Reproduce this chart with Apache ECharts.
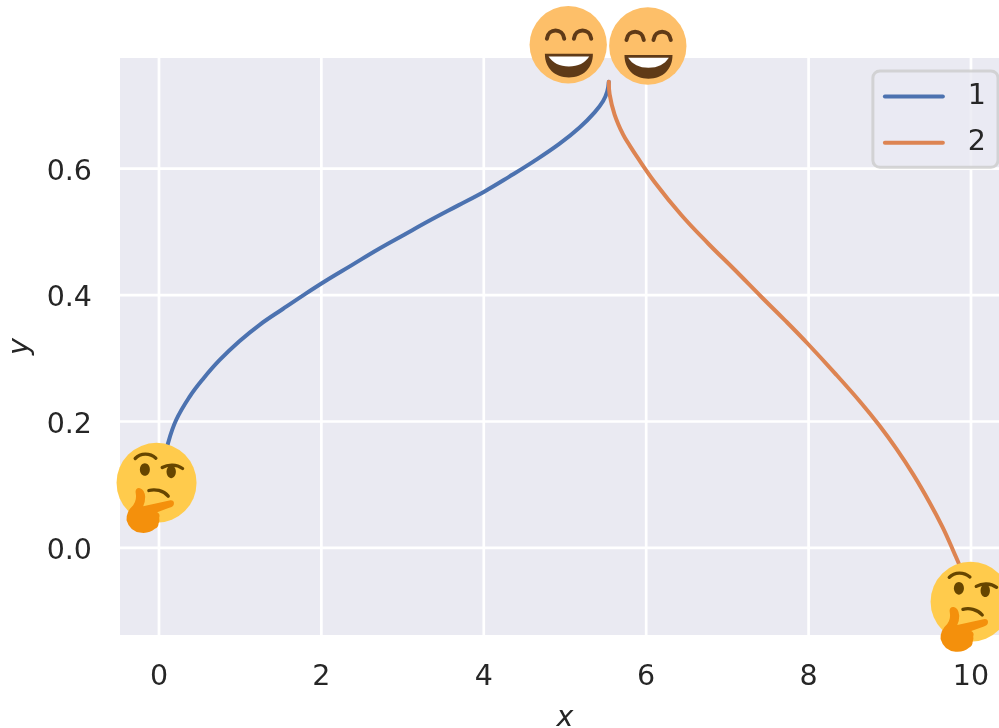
<!DOCTYPE html>
<html>
<head>
<meta charset="utf-8">
<style>html,body{margin:0;padding:0;background:#fff;overflow:hidden}#c{width:999px;height:728px}</style>
<script src="https://cdn.jsdelivr.net/npm/echarts@6/dist/echarts.min.js"></script>
</head>
<body>
<div id="c"></div>
<script>
const seriesNames = ['1', '2'];
const curve1 = [[0,0.10],[0.04,0.125],[0.11,0.165],[0.21,0.202],[0.376,0.239],[0.54,0.267],[0.745,0.297],[0.99,0.327],[1.24,0.353],[1.525,0.378],[1.78,0.4],[2.04,0.4215],[2.37,0.447],[2.70,0.4725],[3.02,0.4955],[3.35,0.519],[3.68,0.5415],[4.01,0.564],[4.31,0.587],[4.61,0.611],[4.93,0.639],[5.18,0.665],[5.365,0.689],[5.47,0.707],[5.52,0.722],[5.54,0.7375]];
const curve2 = [[5.54,0.7375],[5.55,0.7175],[5.61,0.686],[5.715,0.654],[5.8,0.636],[5.88,0.62],[6.105,0.5785],[6.43,0.527],[6.76,0.482],[7.09,0.44],[7.42,0.397],[7.71,0.36],[7.99,0.323],[8.32,0.277],[8.65,0.229],[8.87,0.194],[9.08,0.157],[9.29,0.116],[9.49,0.072],[9.65,0.033],[9.78,-0.004],[9.9,-0.041],[10,-0.083]];
const thinkingFaces = [[-0.03,0.103],[9.995,-0.085]];
const grinningFaces = [[5.04,0.796],[6.02,0.794]];
const xTicks = [0,2,4,6,8,10];
const yTicks = [0,0.2,0.4,0.6];

const font = 'DejaVu Sans';
const ink = '#262626';
const fontPx = 28.5;

function P(d, style){
  const r = echarts.graphic.makePath(d, {}).getBoundingRect();
  return {type:'path', shape:{pathData:d, layout:'cover', x:r.x, y:r.y, width:r.width, height:r.height}, style:style};
}
const brown = '#664500';
function stroke(c, w){ return {fill:'none', stroke:c, lineWidth:w, lineCap:'round'}; }

function thinkingShapes(){
  return [
    {type:'circle', shape:{cx:170,cy:158,r:120}, style:{fill:'#FFCB4C'}},
    P('M106 85C122 68 150 68 168 84', stroke(brown,10)),
    {type:'ellipse', shape:{cx:135,cy:118,rx:15,ry:19}, style:{fill:brown}},
    P('M187 112C205 102 230 102 248 115', stroke(brown,10)),
    {type:'ellipse', shape:{cx:214,cy:125,rx:14,ry:19}, style:{fill:brown}},
    P('M147 181C165 176 190 180 205 198', stroke(brown,10)),
    P('M107 185Q108 172 120 174Q134 178 136 200Q136 215 130 228L212 210Q224 210 222 222Q220 230 208 233L172 246Q182 252 178 262Q180 272 176 280Q176 292 165 296Q150 310 125 308Q90 305 80 270Q78 245 100 225Q112 210 107 185Z', {fill:'#F4900C'})
  ];
}
function grinShapes(){
  const eb = '#5F3A17';
  return [
    {type:'circle', shape:{cx:145,cy:135,r:116}, style:{fill:'#FDBF69'}},
    P('M81 117C85 84 129 84 133 117', stroke(eb,12)),
    P('M162 117C166 84 210 84 214 117', stroke(eb,12)),
    P('M75 162L219 162C219 205 190 233 147 233C104 233 75 205 75 162Z', {fill:eb}),
    P('M86 170L208 170C195 190 175 200 147 200C119 200 99 190 86 170Z', {fill:'#FFFFFF'})
  ];
}
function emojiRender(kind){
  return function(params, api){
    const c = api.coord([api.value(0), api.value(1)]);
    const o = kind === 'think' ? [170,158] : [145,135];
    return {type:'group', x:c[0], y:c[1], scaleX:1/3, scaleY:1/3,
      children:[{type:'group', x:-o[0], y:-o[1], children: kind==='think' ? thinkingShapes() : grinShapes()}]};
  };
}
const gridStyle = {stroke:'#fff', lineWidth:2.7, fill:'none'};
function vLine(params, api){
  const a = api.coord([api.value(0), 0]);
  const r = params.coordSys;
  return {type:'line', shape:{x1:a[0], y1:r.y, x2:a[0], y2:r.y+r.height}, style:gridStyle};
}
function hLine(params, api){
  const a = api.coord([0, api.value(1)]);
  const r = params.coordSys;
  return {type:'line', shape:{x1:r.x, y1:a[1], x2:r.x+r.width, y2:a[1]}, style:gridStyle};
}

const chart = echarts.init(document.getElementById('c'), null, {renderer:'canvas'});
chart.setOption({
  animation:false,
  backgroundColor:'#fff',
  grid:{left:120, top:58, width:879, height:577, backgroundColor:'#EAEAF2', show:true, borderWidth:0, outerBoundsMode:'none'},
  legend:{
    data:seriesNames, right:1, top:71, orient:'vertical', itemWidth:62, itemHeight:26, itemGap:17.3,
    icon:'path://M2 0H60A2 2 0 0 1 60 4H2A2 2 0 0 1 2 0Z', padding:[11,12,10,10],
    backgroundColor:'rgba(234,234,242,0.8)', borderColor:'rgba(204,204,204,0.8)', borderWidth:3, borderRadius:7,
    textStyle:{fontFamily:font, fontSize:fontPx, color:ink, padding:[0,0,0,18]}
  },
  xAxis:{
    type:'value', min:-0.48, max:10.345,
    name:'x', nameLocation:'middle', nameGap:69,
    nameTextStyle:{fontFamily:font, fontStyle:'italic', fontSize:fontPx, color:ink, padding:[0,0,0,11]},
    axisLine:{show:false}, axisTick:{show:false},
    axisLabel:{customValues:xTicks, fontFamily:font, fontSize:fontPx, color:ink, margin:28, formatter:v=>String(v)},
    splitLine:{show:false}
  },
  yAxis:{
    type:'value', min:-0.1377, max:0.775,
    name:'y', nameLocation:'middle', nameGap:85,
    nameTextStyle:{fontFamily:font, fontStyle:'italic', fontSize:fontPx, color:ink},
    axisLine:{show:false}, axisTick:{show:false},
    axisLabel:{customValues:yTicks, fontFamily:font, fontSize:fontPx, color:ink, margin:28, verticalAlign:'top', lineHeight:8, formatter:v=>v.toFixed(1)},
    splitLine:{show:false}
  },
  series:[
    {name:'gridX', type:'custom', data:xTicks.map(v=>[v,0]), renderItem:vLine, z:1, silent:true, clip:true, encode:{x:0,y:1}},
    {name:'gridY', type:'custom', data:yTicks.map(v=>[0,v]), renderItem:hLine, z:1, silent:true, clip:true, encode:{x:0,y:1}},
    {name:seriesNames[0], type:'line', data:curve1, smooth:0.4, symbol:'none', z:3, lineStyle:{color:'#4C72B0', width:4, cap:'round'}, itemStyle:{color:'#4C72B0'}},
    {name:seriesNames[1], type:'line', data:curve2, smooth:0.4, symbol:'none', z:3, lineStyle:{color:'#DD8452', width:4, cap:'round'}, itemStyle:{color:'#DD8452'}},
    {name:'thinking', type:'custom', data:thinkingFaces, renderItem:emojiRender('think'), z:4, silent:true, encode:{x:0,y:1}},
    {name:'grinning', type:'custom', data:grinningFaces, renderItem:emojiRender('grin'), z:4, silent:true, encode:{x:0,y:1}}
  ]
});
</script>
</body>
</html>
